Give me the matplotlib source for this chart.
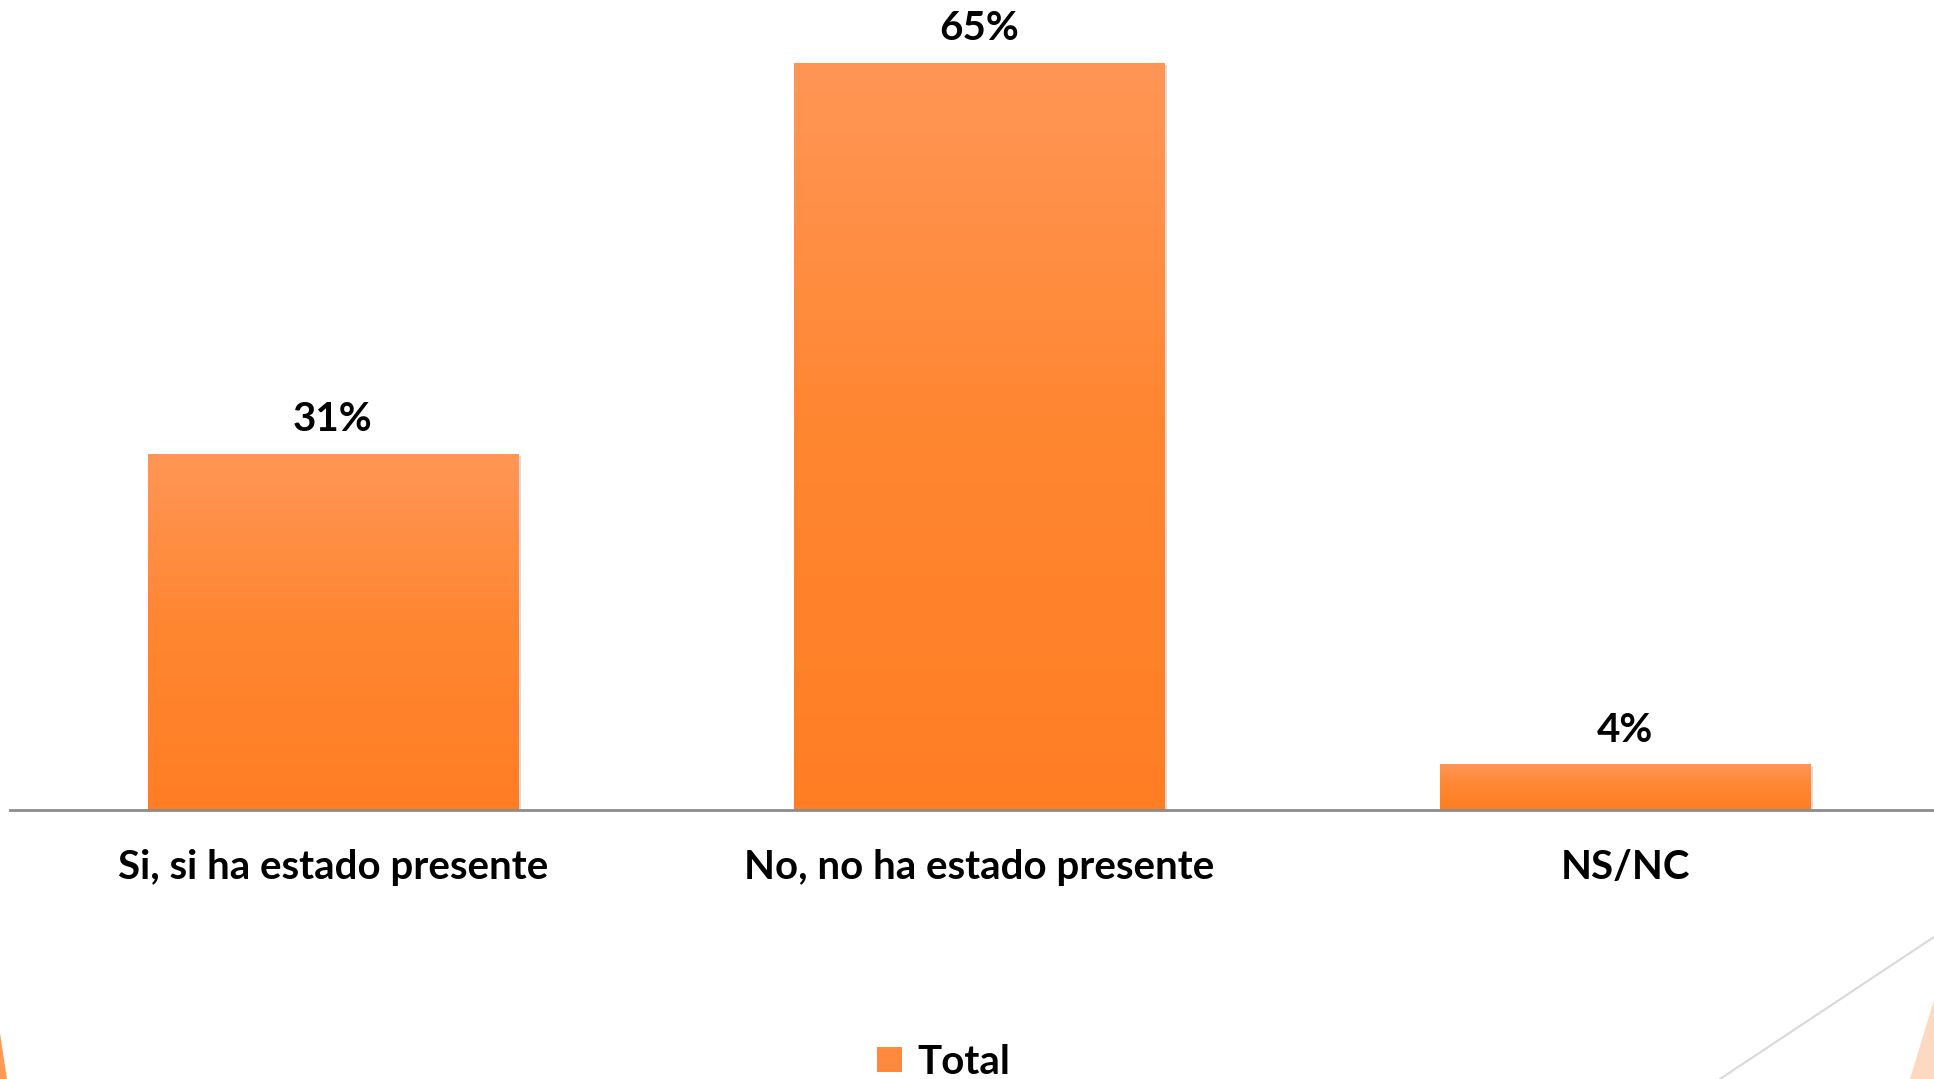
import numpy as np
import matplotlib
matplotlib.use("Agg")
import matplotlib.pyplot as plt
from matplotlib.colors import LinearSegmentedColormap
from matplotlib.patches import Polygon, Patch
from matplotlib.lines import Line2D
import matplotlib.patheffects as pe

categories = ["Si, si ha estado presente", "No, no ha estado presente", "NS/NC"]
values = [31, 65, 4]
series_name = "Total"

plt.rcParams['font.family'] = ['Lato', 'DejaVu Sans']

fig = plt.figure(figsize=(19.34, 10.79), dpi=100)
fig.patch.set_facecolor("white")

# decorative slide shapes at the bottom corners
fig.add_artist(Polygon([[0, 1 - 1033/1079], [7/1934, 0], [0, 0]], closed=True,
                       transform=fig.transFigure, facecolor="#FF9A55", edgecolor="none"))
fig.add_artist(Line2D([1720/1934, 1.0], [0, 1 - 937/1079], transform=fig.transFigure,
                      color="#D9D9D9", lw=1.5))
fig.add_artist(Polygon([[1910/1934, 0], [1.0, 1 - 1000/1079], [1.0, 0]], closed=True,
                       transform=fig.transFigure, facecolor="#FDD9C2", edgecolor="none"))

ax = fig.add_axes([10/1934, 269/1079, 1938/1934, 805/1079])

x = np.arange(len(categories))
bars = ax.bar(x, values, width=0.574, color="#FF8A3D", edgecolor="none", zorder=2,
              path_effects=[pe.SimplePatchShadow(offset=(2, -2), shadow_rgbFace="#999999",
                                                 alpha=0.35), pe.Normal()])

# vertical gradient fill, lighter at the top
cmap = LinearSegmentedColormap.from_list("bar", ["#FF7E24", "#FF8630", "#FF9656"])
grad = np.linspace(0, 1, 256).reshape(-1, 1)
for b in bars:
    x0, y0 = b.get_x(), b.get_y()
    w, h = b.get_width(), b.get_height()
    im = ax.imshow(grad, cmap=cmap, aspect="auto", origin="lower",
                   extent=[x0, x0 + w, y0, y0 + h], zorder=3)
    im.set_clip_path(b)
    ax.text(x0 + w / 2, h + 2.95, f"{h:.0f}%", ha="center", va="center",
            fontsize=29, fontweight="bold", color="black", zorder=4)

ax.set_xlim(-0.5, 2.5)
ax.set_ylim(0, 70)

for s in ["top", "right", "left"]:
    ax.spines[s].set_visible(False)
ax.spines["bottom"].set_color("#8C8C8C")
ax.spines["bottom"].set_linewidth(2)
ax.spines["bottom"].set_zorder(5)
ax.set_yticks([])
ax.set_xticks(x)
ax.set_xticklabels(categories, fontsize=29, fontweight="bold")
ax.tick_params(axis="x", length=0, pad=28)
ax.set_facecolor("none")

handle = Patch(facecolor="#FF8A3D", edgecolor="none")
fig.legend([handle], [series_name], loc="center", bbox_to_anchor=(944/1934, 1 - 1062/1079),
           frameon=False, prop={"size": 29, "weight": "bold"}, handlelength=0.6,
           handleheight=0.6, handletextpad=0.4)

fig.savefig("out.png", dpi=100, facecolor="white")
